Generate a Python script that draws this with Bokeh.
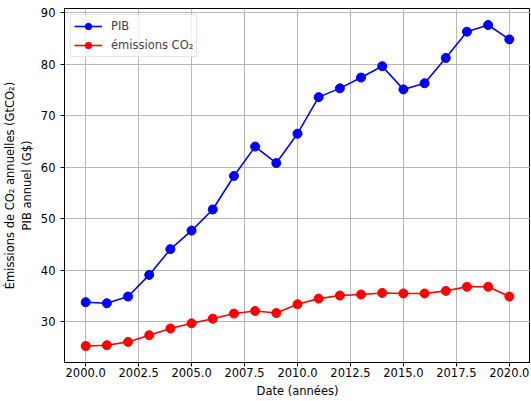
from bokeh.plotting import figure
from bokeh.models import FixedTicker, PrintfTickFormatter, Range1d, Legend, LegendItem
from bokeh.embed import file_html
from bokeh.resources import INLINE

years = list(range(2000, 2021))
pib = [33.8, 33.6, 34.9, 39.1, 44.1, 47.7, 51.8, 58.3, 64.0, 60.8, 66.5,
       73.6, 75.3, 77.4, 79.6, 75.1, 76.3, 81.2, 86.3, 87.6, 84.8]
co2 = [25.3, 25.45, 26.1, 27.4, 28.7, 29.7, 30.6, 31.6, 32.1, 31.7, 33.4,
       34.5, 35.1, 35.3, 35.6, 35.5, 35.5, 36.0, 36.8, 36.8, 34.9]
x_ticks = [2000, 2002.5, 2005, 2007.5, 2010, 2012.5, 2015, 2017.5, 2020]
y_ticks = [30, 40, 50, 60, 70, 80, 90]

FONT = "DejaVu Sans"
FS = "11.5px"

p = figure(width=530, height=400, output_backend="svg",
           toolbar_location=None,
           x_range=Range1d(1999, 2021), y_range=Range1d(22.1, 90.8),
           min_border_top=8, min_border_right=0, min_border_left=61, min_border_bottom=0)

l1 = p.line(years, pib, line_color="blue", line_width=1.6)
s1 = p.scatter(years, pib, size=9, fill_color="blue", line_color="blue")
l2 = p.line(years, co2, line_color="red", line_width=1.6)
s2 = p.scatter(years, co2, size=9, fill_color="red", line_color="red")

legend = Legend(items=[LegendItem(label="PIB", renderers=[l1, s1]),
                       LegendItem(label="émissions CO₂", renderers=[l2, s2])],
                location="top_left")
legend.label_text_font = FONT
legend.label_text_font_size = FS
legend.glyph_width = 28
legend.glyph_height = 16
legend.label_standoff = 9
legend.spacing = 3
legend.padding = 3
legend.margin = 6
legend.border_line_color = "#cccccc"
legend.border_line_width = 1
legend.background_fill_alpha = 0.8
p.add_layout(legend)

p.xaxis.ticker = FixedTicker(ticks=x_ticks)
p.xaxis.formatter = PrintfTickFormatter(format="%.1f")
p.yaxis.ticker = FixedTicker(ticks=y_ticks)
p.xaxis.axis_label = "Date (années)"
p.yaxis.axis_label = "Émissions de CO₂ annuelles (GtCO₂)\nPIB annuel (G$)"

for ax in (p.xaxis, p.yaxis):
    ax.axis_label_text_font = FONT
    ax.axis_label_text_font_size = FS
    ax.axis_label_text_font_style = "normal"
    ax.major_label_text_font = FONT
    ax.major_label_text_font_size = FS
    ax.major_label_text_color = "black"
    ax.axis_label_text_color = "black"
    ax.axis_line_color = "black"
    ax.major_tick_line_color = "black"
    ax.major_tick_in = 0
    ax.major_tick_out = 4
    ax.minor_tick_line_color = None
p.xaxis.major_label_standoff = 1
p.xaxis.axis_label_standoff = 4
p.yaxis.major_label_standoff = 5
p.yaxis.axis_label_standoff = 4

p.outline_line_color = "black"
p.outline_line_alpha = 1
p.grid.grid_line_color = "#b0b0b0"
p.grid.grid_line_width = 0.9
p.xgrid.ticker = FixedTicker(ticks=x_ticks)
p.ygrid.ticker = FixedTicker(ticks=y_ticks)

open("out.html", "w").write(file_html(p, INLINE))
